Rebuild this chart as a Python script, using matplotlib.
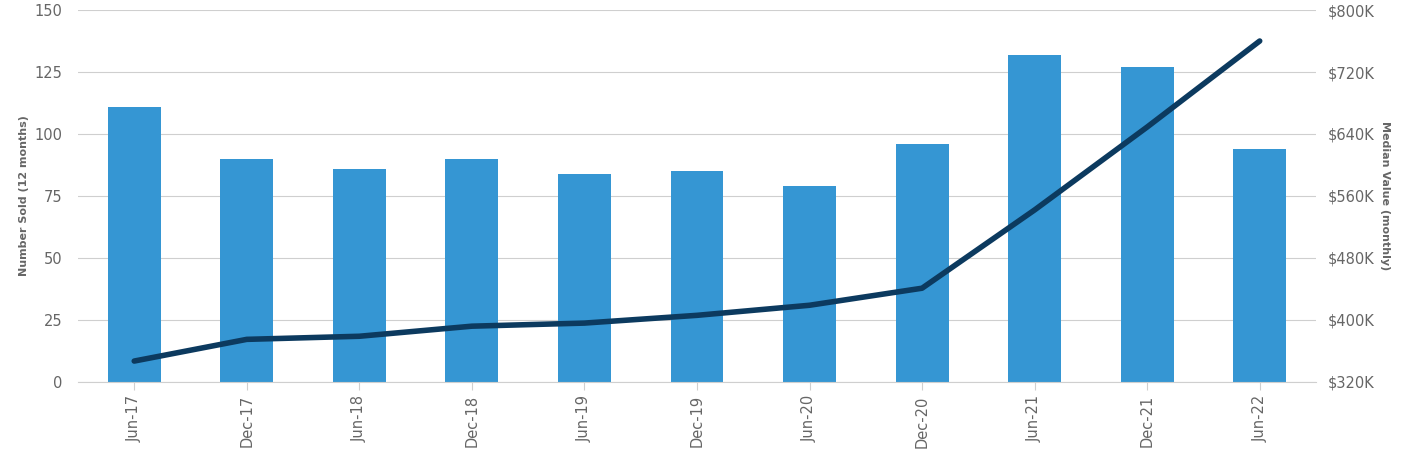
import matplotlib.pyplot as plt
from matplotlib.ticker import FuncFormatter

plt.rcParams['font.family'] = ['DejaVu Sans']

periods = ["Jun-17", "Dec-17", "Jun-18", "Dec-18", "Jun-19", "Dec-19",
           "Jun-20", "Dec-20", "Jun-21", "Dec-21", "Jun-22"]
number_sold = [111, 90, 86, 90, 84, 85, 79, 96, 132, 127, 94]
median_value = [347, 375, 379, 392, 396, 406, 419, 441, 542, 649, 760]  # $K

BAR_COLOR = "#3596d3"
LINE_COLOR = "#0c3a5f"
TEXT_COLOR = "#666666"
GRID_COLOR = "#cfcfcf"

fig = plt.figure(figsize=(14.12, 4.59), dpi=100)
ax = fig.add_axes([0.0552, 0.1678, 0.8768, 0.8104])
ax2 = ax.twinx()

x = list(range(len(periods)))
ax.bar(x, number_sold, width=0.47, color=BAR_COLOR, zorder=2)
ax2.plot(x, median_value, color=LINE_COLOR, linewidth=4, solid_capstyle="round", zorder=3)

ax.set_xlim(-0.5, len(periods) - 0.5)
ax.set_ylim(0, 150)
ax.set_yticks(range(0, 151, 25))
ax2.set_ylim(320, 800)
ax2.set_yticks(range(320, 801, 80))
ax2.yaxis.set_major_formatter(FuncFormatter(lambda v, p: "${:d}K".format(int(v))))

ax.set_xticks(x)
ax.set_xticklabels(periods, rotation=90)
ax.grid(axis="y", color=GRID_COLOR, linewidth=0.8, zorder=0)
ax.set_axisbelow(True)

for a in (ax, ax2):
    for s in ("top", "left", "right"):
        a.spines[s].set_visible(False)
    a.spines["bottom"].set_color(GRID_COLOR)
ax2.spines["bottom"].set_visible(False)

ax.tick_params(axis="y", length=0, pad=11, labelcolor=TEXT_COLOR, labelsize=10.5)
ax2.tick_params(axis="y", length=0, pad=8.5, labelcolor=TEXT_COLOR, labelsize=10.5)
ax.tick_params(axis="x", length=6, width=0.8, color=GRID_COLOR, labelcolor=TEXT_COLOR, labelsize=10.5)

ax.set_ylabel("Number Sold (12 months)", fontsize=8, fontweight="bold", color=TEXT_COLOR, labelpad=4)
ax2.set_ylabel("Median Value (monthly)", fontsize=8, fontweight="bold", color=TEXT_COLOR,
               rotation=270, labelpad=11)

fig.savefig("out.png", dpi=100)
